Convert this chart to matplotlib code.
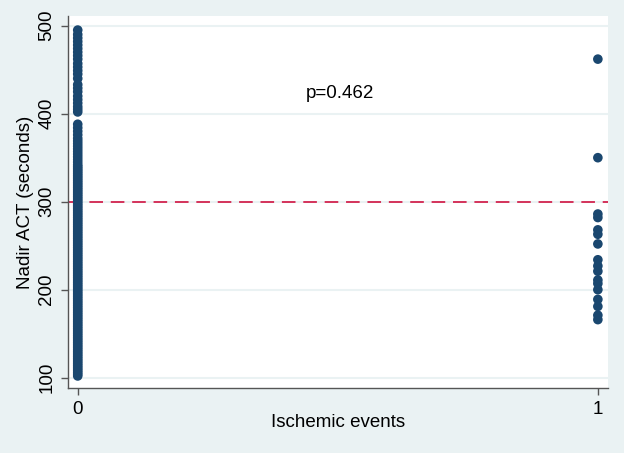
import matplotlib
matplotlib.use("Agg")
import matplotlib.pyplot as plt

plt.rcParams['font.family'] = ['Liberation Sans', 'DejaVu Sans']

# Nadir ACT (seconds) for patients without ischemic events (group 0)
act_no_event = [
    102, 104, 106, 108, 110, 112, 114, 116, 118, 120, 122, 124, 126, 128, 130,
    132, 134, 136, 138, 140, 142, 144, 146, 148, 150, 152, 154, 156, 158, 160,
    162, 164, 166, 168, 170, 172, 174, 176, 178, 180, 182, 184, 186, 188, 190,
    192, 194, 196, 198, 200, 202, 204, 206, 208, 210, 212, 214, 216, 218, 220,
    222, 224, 226, 228, 230, 232, 234, 236, 238, 240, 242, 244, 246, 248, 250,
    252, 254, 256, 258, 260, 262, 264, 266, 268, 270, 272, 274, 276, 278, 280,
    282, 284, 286, 288, 290, 292, 294, 296, 298, 300, 302, 304, 306, 308, 310,
    312, 314, 316, 318, 320, 322, 324, 326, 328, 330, 332, 334, 336, 338, 340,
    342, 345, 348, 351, 354, 357, 360, 363, 366, 369, 372, 376, 380, 384, 388,
    402, 405, 408, 412, 416, 420, 425, 429, 433, 440, 445, 449, 453, 457,
    462, 466, 470, 474, 478, 482, 486, 490, 495,
]

# Nadir ACT (seconds) for patients with ischemic events (group 1)
act_event = [462, 350, 286, 282, 268, 263, 252, 234, 227, 221, 211, 207,
             200, 189, 181, 171, 166]

groups = [0, 1]
group_labels = ["0", "1"]
y_ticks = [100, 200, 300, 400, 500]
cutoff = 300
p_text = "p=0.462"

bg = '#EAF2F3'
navy = '#1A476F'

fig = plt.figure(figsize=(6.24, 4.53), dpi=100, facecolor=bg)
ax = fig.add_axes([68 / 624, 1 - 388 / 453, 540 / 624, 372 / 453])
ax.set_facecolor('white')

for y in y_ticks:
    ax.axhline(y, color=bg, lw=1.5, zorder=0)

ax.scatter([groups[0]] * len(act_no_event), act_no_event, s=48,
           color=navy, edgecolors='none', zorder=3)
ax.scatter([groups[1]] * len(act_event), act_event, s=48,
           color=navy, edgecolors='none', zorder=3)

ax.axhline(cutoff, color='#D4325A', lw=1.4, ls=(0, (7, 4)), zorder=2)

ax.text(0.505, 423, p_text, ha='center', va='center', fontsize=13.5)

ax.set_xlim(-0.0187, 1.0195)
ax.set_ylim(88.3, 511)
ax.set_xticks(groups)
ax.set_xticklabels(group_labels)
ax.set_yticks(y_ticks)
ax.set_yticklabels([str(v) for v in y_ticks], rotation=90, va='center')

for side in ['top', 'right']:
    ax.spines[side].set_visible(False)
for side in ['left', 'bottom']:
    ax.spines[side].set_color('#555555')
    ax.spines[side].set_linewidth(1.0)

ax.tick_params(axis='both', direction='out', length=5, width=1,
               color='#555555', labelsize=13.5, pad=4)

ax.set_xlabel("Ischemic events", fontsize=13.5, labelpad=-2.5)
ax.set_ylabel("Nadir ACT (seconds)", fontsize=13.5, labelpad=3)

fig.savefig("out.png", dpi=100, facecolor=bg)
